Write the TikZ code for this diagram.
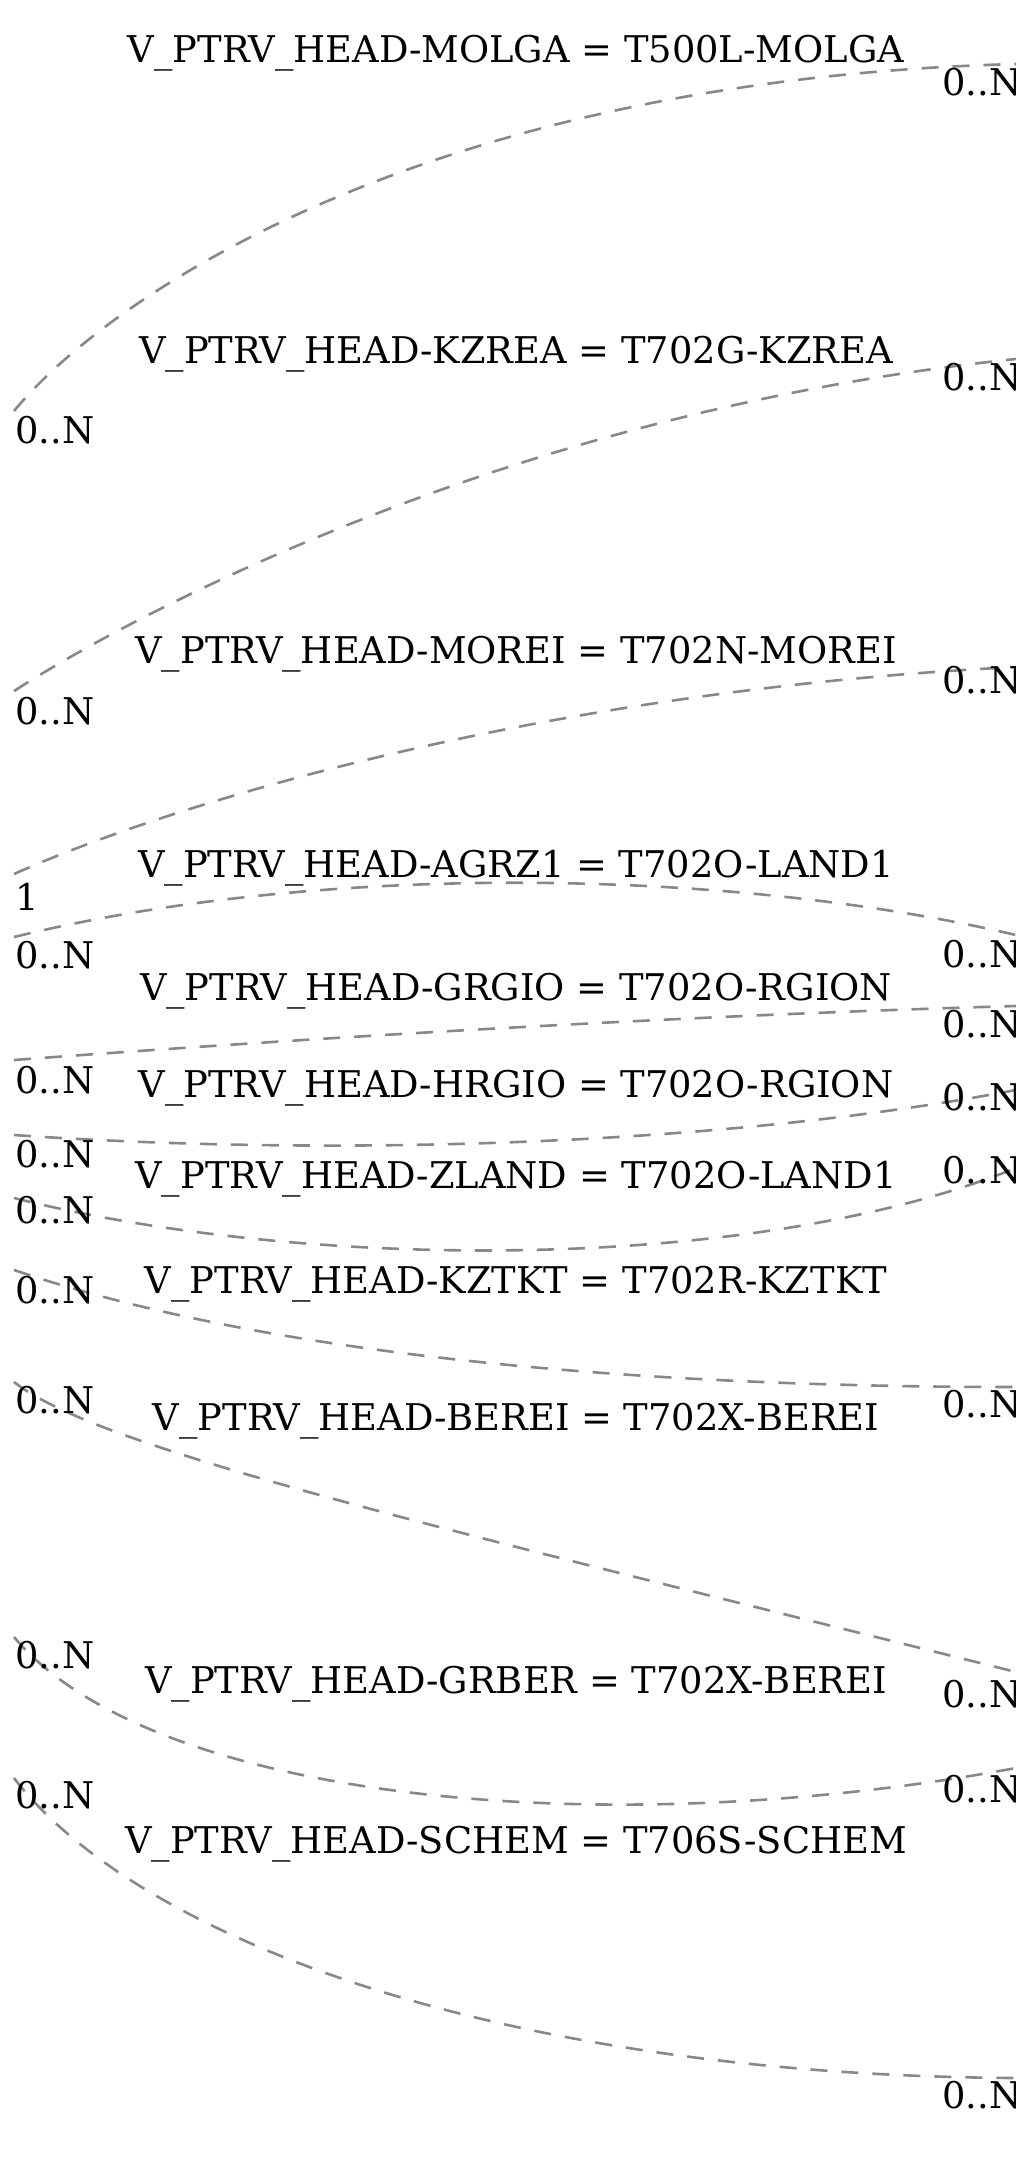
\documentclass[tikz,border=0pt]{standalone}
\usepackage{fontspec}
\setmainfont{DejaVu Serif}
\definecolor{linkgray}{HTML}{888888}
\newcommand\many{0..N}
\begin{document}
\begin{tikzpicture}[x=0.5pt,y=-0.5pt]
      \tikzstyle{every node}=[inner sep=0pt, font=\fontsize{18.4}{22}\selectfont]
      \tikzstyle{link}=[draw=linkgray, line width=1.3pt, dash pattern=on 8.5pt off 7pt]
      \useasboundingbox (0,0) rectangle (1016,2174);

      \foreach \i/\ya/\ax/\ay/\bx/\by/\yb/\yt/\k/\yk/\ykr/\lhs/\rhs in {
        1/411/105/300/420/80/64/62/\many/443/95/MOLGA/T500L-MOLGA,
        2/691/140/610/520/410/359/363/\many/724/390/KZREA/T702G-KZREA,
        3/874/180/800/550/690/667/663/1/910/693/MOREI/T702N-MOREI,
        4/937/320/862/730/868/935/877/\many/968/967/AGRZ1/T702O-LAND1,
        5/1060/350/1035/700/1015/1006/1000/\many/1093/1037/GRGIO/T702O-RGION,
        6/1135/300/1155/700/1150/1090/1097/\many/1167/1110/HRGIO/T702O-RGION,
        7/1198/300/1270/750/1275/1168/1188/\many/1223/1183/ZLAND/T702O-LAND1,
        8/1270/250/1350/600/1387/1387/1293/\many/1303/1417/KZTKT/T702R-KZTKT,
        9/1382/100/1450/450/1530/1672/1430/\many/1413/1707/BEREI/T702X-BEREI,
        10/1637/150/1800/600/1845/1768/1693/\many/1668/1802/GRBER/T702X-BEREI,
        11/1778/130/1930/480/2075/2078/1853/\many/1808/2108/SCHEM/T706S-SCHEM}
      {
        \coordinate (l\i) at (14,\ya);
        \coordinate (r\i) at (1016,\yb);
        \draw [link] (l\i) .. controls (\ax,\ay) and (\bx,\by) .. (r\i);
        \path (516,\yt) node [anchor=base] (e\i) {V\_PTRV\_HEAD-\lhs{} = \rhs};
        \path (15,\yk) node [anchor=base west] (cl\i) {\k};
        \path (942,\ykr) node [anchor=base west] (cr\i) {0..N};
      }
    \end{tikzpicture}
\end{document}
